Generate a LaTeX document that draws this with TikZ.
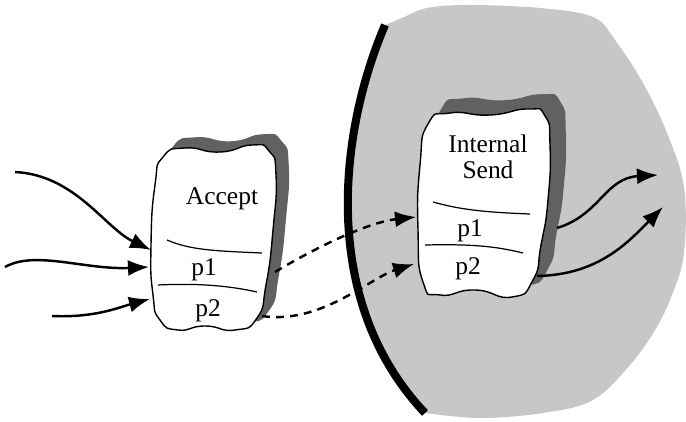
\documentclass[tikz,border=0pt]{standalone}
\usepackage{fontspec}
\setmainfont{Liberation Serif}
\usetikzlibrary{arrows.meta}

\tikzset{
  blob/.style={draw=black, fill=white, line width=0.8pt},
  blobshadow/.style={fill=black!62, draw=black!62, line width=2pt},
  flow/.style={line width=1.4pt, -{Latex[length=0.42cm,width=0.32cm]}},
  sendflow/.style={flow, dash pattern=on 4.5pt off 3.5pt},
  slot/.style={line width=0.7pt},
  lbl/.style={font=\fontsize{14.5}{15}\selectfont, inner sep=0pt, align=center}
}

\begin{document}
\begin{tikzpicture}[x=0.02cm,y=-0.02cm]
\useasboundingbox (0,0) rectangle (686,422);

% shaded region behind the boundary
\fill[black!22] (385,25) .. controls (340,130) and (318,300) .. (425,413)
  -- plot[smooth, tension=0.6] coordinates {(425,413) (480,418) (543,413) (593,400) (630,365) (655,330) (672,295) (684,253) (684,187) (667,133) (643,83) (615,40) (593,17) (540,8) (470,5) (427,8) (402,18) (385,25)} -- cycle;
\draw[line width=4.6pt] (385,25) .. controls (340,130) and (318,300) .. (425,413);

% Accept
\fill[blobshadow, shift={(11,-9)}] plot[smooth cycle, tension=1] coordinates {(185,148) (220,152) (252,145) (269,151) (276,175) (273,230) (266,285) (257,318) (235,330) (205,326) (178,330) (160,320) (153,295) (151,245) (155,185) (163,157)};
\draw[blob] plot[smooth cycle, tension=1] coordinates {(185,148) (220,152) (252,145) (269,151) (276,175) (273,230) (266,285) (257,318) (235,330) (205,326) (178,330) (160,320) (153,295) (151,245) (155,185) (163,157)};
\draw[slot] (167,240) .. controls (190,250) and (215,251) .. (262,253);
\draw[slot] (158,285) .. controls (200,283) and (230,286) .. (257,292);
\node[lbl] (accept) at (222,199) {Accept};
\node[lbl] (accp1) at (204,270) {p1};
\node[lbl] (accp2) at (208,311) {p2};

% Internal Send
\fill[blobshadow, shift={(14,-13)}] plot[smooth cycle, tension=1] coordinates {(450,113) (490,115) (528,109) (545,116) (550,145) (548,200) (541,245) (533,280) (512,297) (475,290) (440,295) (423,282) (418,230) (420,165) (428,124)};
\draw[blob] plot[smooth cycle, tension=1] coordinates {(450,113) (490,115) (528,109) (545,116) (550,145) (548,200) (541,245) (533,280) (512,297) (475,290) (440,295) (423,282) (418,230) (420,165) (428,124)};
\draw[slot] (433,202) .. controls (455,208) and (475,212) .. (530,214);
\draw[slot] (425,245) .. controls (470,244) and (495,246) .. (523,253);
\node[lbl] (intsend) at (488,157) {Internal\\Send};
\node[lbl] (intp1) at (470,231) {p1};
\node[lbl] (intp2) at (468,269) {p2};

% ports
\coordinate (in1) at (15,172);
\coordinate (in2) at (5,267);
\coordinate (in3) at (52,316);
\coordinate (accin1) at (151,250);
\coordinate (accin2) at (149,267);
\coordinate (accin3) at (150,299);
\coordinate (accout1) at (275,272);
\coordinate (accout2) at (262,316);
\coordinate (intin1) at (416,217);
\coordinate (intin2) at (414,264);
\coordinate (intout1) at (557,228);
\coordinate (intout2) at (537,276);
\coordinate (out1) at (658,175);
\coordinate (out2) at (663,207);

\draw[flow] (in1) .. controls (75,175) and (105,228) .. (accin1);
\draw[flow] (in2) .. controls (35,250) and (85,270) .. (accin2);
\draw[flow] (in3) .. controls (95,318) and (120,307) .. (accin3);
\draw[sendflow] (accout1) .. controls (320,245) and (370,222) .. (intin1);
\draw[sendflow] (accout2) .. controls (320,325) and (370,278) .. (intin2);
\draw[flow] (intout1) .. controls (600,215) and (605,178) .. (out1);
\draw[flow] (intout2) .. controls (600,275) and (630,240) .. (out2);

\end{tikzpicture}
\end{document}
